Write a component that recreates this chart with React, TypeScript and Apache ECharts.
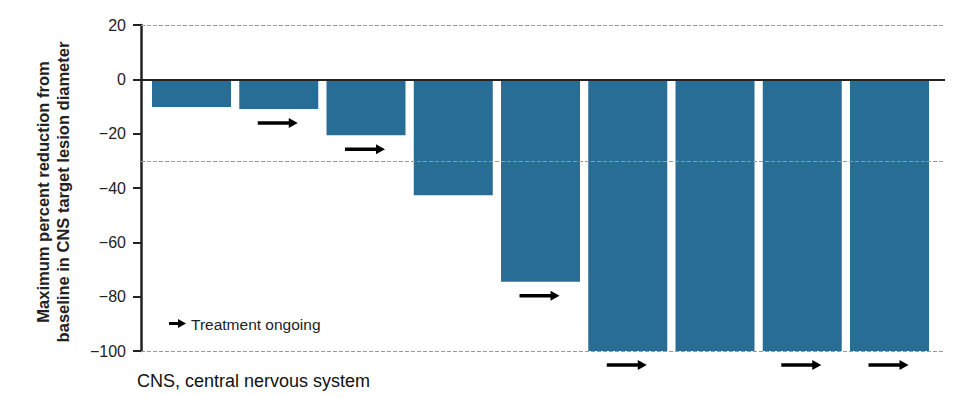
import React, { useEffect, useRef } from "react";
import * as echarts from "echarts";

const categories = [1, 2, 3, 4, 5, 6, 7, 8, 9];
const reductions = [-10.2, -10.9, -20.6, -42.7, -74.5, -100, -100, -100, -100];
const ongoing = [2, 3, 5, 6, 8, 9];
const yTicks = { min: -100, max: 20, interval: 20 };
const refLines = [20, -30, -100];

const FONT = "Liberation Sans, Arial, sans-serif";
const BAR_COLOR = "#286d95";
const ARROW_PATH = "path://M0,3.3 L31,3.3 L31,0 L40,5 L31,10 L31,6.7 L0,6.7 Z";

export default function App() {
  const ref = useRef<HTMLDivElement>(null);
  useEffect(() => {
    document.body.style.margin = "0";
    const chart = echarts.init(ref.current!, undefined, { renderer: "svg" });
    const barData = categories.map((c, i) => [c, reductions[i]]);
    const arrowData = ongoing.map((c) => [c, reductions[categories.indexOf(c)]]);
    chart.setOption({
      animation: false,
      grid: { left: 141, right: 30, top: 25, bottom: 47 },
      xAxis: {
        type: "value",
        min: 0.421,
        max: 9.636,
        show: false,
        splitLine: { show: false },
      },
      yAxis: {
        type: "value",
        min: yTicks.min,
        max: yTicks.max,
        interval: yTicks.interval,
        axisLine: { show: true, lineStyle: { color: "#222", width: 2.5 } },
        axisTick: { show: true, length: 8, lineStyle: { color: "#222", width: 2 } },
        axisLabel: {
          margin: 15,
          color: "#222",
          fontSize: 16,
          fontFamily: FONT,
          formatter: (v: number) => (v < 0 ? "\u2212" + -v : String(v)),
        },
        splitLine: { show: false },
      },
      series: [
        {
          type: "bar",
          data: barData,
          barWidth: 79,
          itemStyle: { color: BAR_COLOR },
          markLine: {
            silent: true,
            symbol: "none",
            label: { show: false },
            data: [
              ...refLines.map((v) => ({
                yAxis: v,
                lineStyle: { color: "#999", width: 1, type: [4, 2] },
              })),
              { yAxis: 0, lineStyle: { color: "#222", width: 2, type: "solid" } },
            ],
          },
        },
        {
          type: "scatter",
          data: arrowData,
          symbol: ARROW_PATH,
          symbolSize: [40, 10],
          symbolKeepAspect: false,
          symbolOffset: [-1, 14],
          itemStyle: { color: "#000", opacity: 1 },
          clip: false,
          silent: true,
          z: 5,
        },
      ],
      graphic: [
        {
          type: "text",
          x: 53,
          y: 192,
          rotation: Math.PI / 2,
          style: {
            text: "Maximum percent reduction from\nbaseline in CNS target lesion diameter",
            font: `bold 16.5px ${FONT}`,
            fill: "#222",
            align: "center",
            verticalAlign: "middle",
            lineHeight: 20,
          },
        },
        {
          type: "polygon",
          shape: {
            points: [
              [169, 322.1],
              [178, 322.1],
              [178, 319],
              [186, 323.5],
              [178, 328],
              [178, 324.9],
              [169, 324.9],
            ],
          },
          style: { fill: "#000" },
        },
        {
          type: "text",
          x: 191,
          y: 324,
          style: {
            text: "Treatment ongoing",
            font: `15.5px ${FONT}`,
            fill: "#222",
            align: "left",
            verticalAlign: "middle",
          },
        },
        {
          type: "text",
          x: 137,
          y: 381,
          style: {
            text: "CNS, central nervous system",
            font: `18px ${FONT}`,
            fill: "#111",
            align: "left",
            verticalAlign: "middle",
          },
        },
      ],
    });
    return () => chart.dispose();
  }, []);
  return <div ref={ref} style={{ width: 975, height: 398 }} />;
}
